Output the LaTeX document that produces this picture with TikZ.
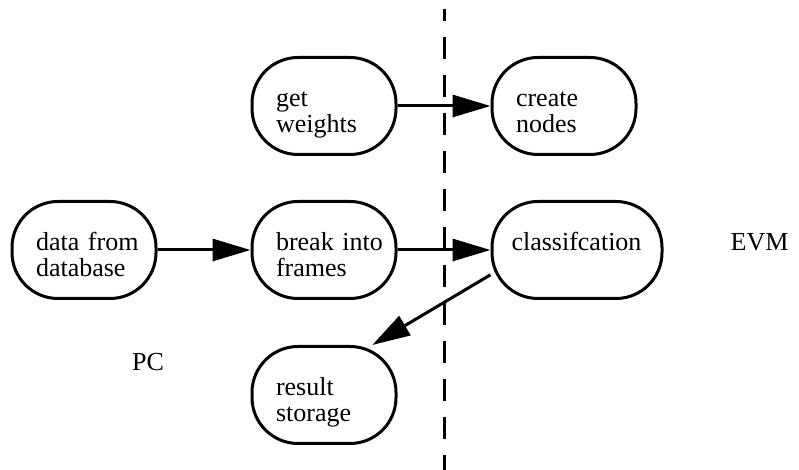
\documentclass[tikz,border=0pt]{standalone}
\usepackage{fontspec}
\setmainfont{Liberation Serif}
\usetikzlibrary{arrows.meta, positioning, calc}
\hfuzz=20pt

\begin{document}
\begin{tikzpicture}[
    x=1pt, y=1pt,
    font=\fontsize{26}{26}\selectfont,
    % styles
    stage/.style={
        draw, line width=3pt, rounded corners=46pt, align=left,
        minimum width=144pt, minimum height=97pt,
        text width=96pt, inner xsep=24pt,
        text height=12pt, text depth=10pt
    },
    side_label/.style={
        anchor=base west, inner sep=0pt
    },
    flow/.style={
        -{Triangle[length=38pt, width=22pt]}, line width=3pt
    },
    divider/.style={
        line width=3pt, dash pattern=on 22pt off 16pt, dash phase=10pt
    }
]
    \useasboundingbox (0,0) rectangle (799,470);

    % --- PC side ---
    \node[stage] (data) at (84, 220) {data~from\\database};
    \node[stage, right=93pt of data] (brk) {break~into\\frames};
    \node[stage, above=44pt of brk] (getw) {get\\weights};
    \node[stage, below=45pt of brk] (result) {result\\storage};
    \node[side_label] (pc) at (132, 99) {PC};

    % --- EVM side ---
    \node[stage, right=93pt of getw] (create) {create\\nodes};
    \node[stage, right=93pt of brk, text width=131pt, inner xsep=19.5pt] (classif) {classifcation};
    \node[side_label, right=67pt of classif.base east, anchor=base west] (evm) {EVM};

    % split between the two machines
    \coordinate (cut) at ($(brk.east)!.5!(classif.west)$);
    \coordinate (cut_top) at (cut |- 0,461);
    \coordinate (cut_bot) at (cut |- 0,0);
    \draw[divider] (cut_top) -- (cut_bot);

    % data flow
    \draw[flow] (getw.east) -- (create.west);
    \draw[flow] (data.east) -- (brk.west);
    \draw[flow] (brk.east) -- (classif.west);
    \draw[flow] (classif.196) -- (result.46);

\end{tikzpicture}
\end{document}
